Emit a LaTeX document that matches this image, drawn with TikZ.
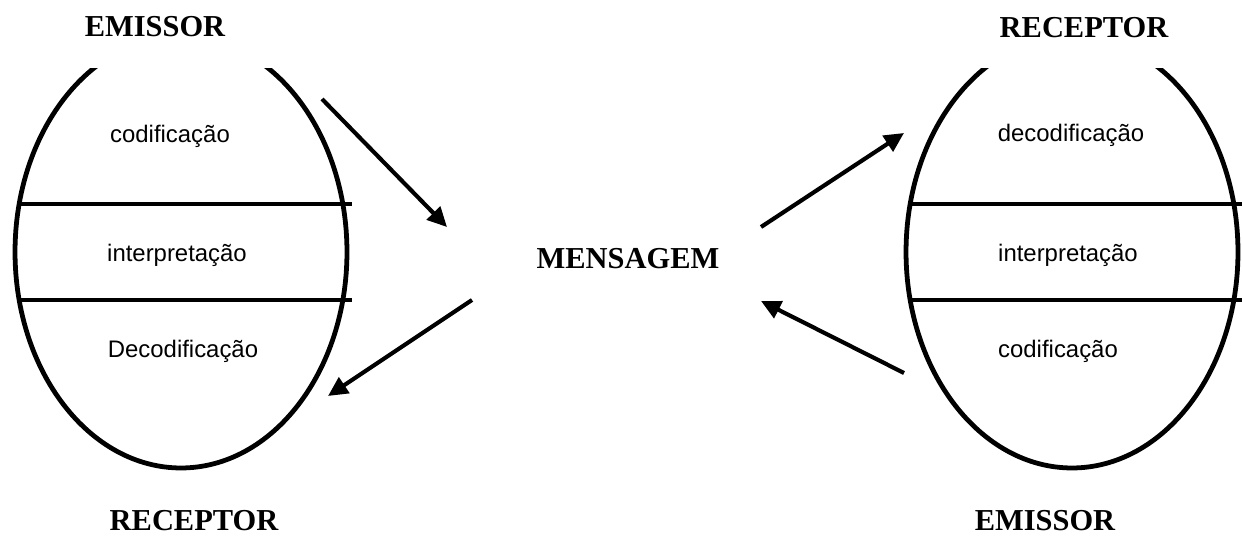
\documentclass[tikz,border=0pt]{standalone}
\usepackage{fontspec}
\setmainfont{Liberation Serif}
\setsansfont{Liberation Sans}
\usetikzlibrary{arrows.meta, shapes.geometric, positioning}

\tikzset{
  oval/.style={draw, ellipse, line width=2.2pt, minimum width=152.7pt, minimum height=198.7pt, inner sep=0pt},
  divisor/.style={line width=1.9pt},
  seta/.style={line width=1.9pt, -{Triangle[length=9pt, width=8.5pt]}},
  papel/.style={font=\bfseries\fontsize{14}{16}\selectfont, anchor=base},
  etapa/.style={font=\sffamily\fontsize{11}{13}\selectfont, anchor=base},
}

\begin{document}
\begin{tikzpicture}[x=0.46pt, y=-0.46pt]
        \useasboundingbox (0,0) rectangle (1242,536);

        % os dois ovais, cortados em cima
        \begin{scope}
          \clip (0,69) rectangle (1242,536);
          \node[oval] (ovalE) at (181,252) {};
          \node[oval] (ovalD) at (1072,252) {};
        \end{scope}
        \draw[divisor] (19,204) -- (352,204);
        \draw[divisor] (19,300) -- (352,300);
        \draw[divisor] (910,204) -- (1242,204);
        \draw[divisor] (910,300) -- (1242,300);

        % papeis
        \node[papel] (emisE) at (155,37) {EMISSOR};
        \node[papel] (recepD) at (1084,38) {RECEPTOR};
        \node[papel] (recepE) at (194,530) {RECEPTOR};
        \node[papel] (emisD) at (1045,530) {EMISSOR};
        \node[papel] (msg) at (628,268) {MENSAGEM};

        % etapas
        \node[etapa] (codE) at (170,143) {codificação};
        \node[etapa] (intE) at (177,261) {interpretação};
        \node[etapa] (decE) at (183,357) {Decodificação};
        \node[etapa] (decD) at (1071,142) {decodificação};
        \node[etapa] (intD) at (1068,261) {interpretação};
        \node[etapa] (codD) at (1058,357) {codificação};

        % setas
        \coordinate (s1) at (322,99);
        \coordinate (t1) at (447,227);
        \coordinate (s2) at (472,300);
        \coordinate (t2) at (328,396);
        \coordinate (s3) at (761,227);
        \coordinate (t3) at (904,133);
        \coordinate (s4) at (904,373);
        \coordinate (t4) at (761,301);
        \draw[seta] (s1) -- (t1);
        \draw[seta] (s2) -- (t2);
        \draw[seta] (s3) -- (t3);
        \draw[seta] (s4) -- (t4);
\end{tikzpicture}
\end{document}
